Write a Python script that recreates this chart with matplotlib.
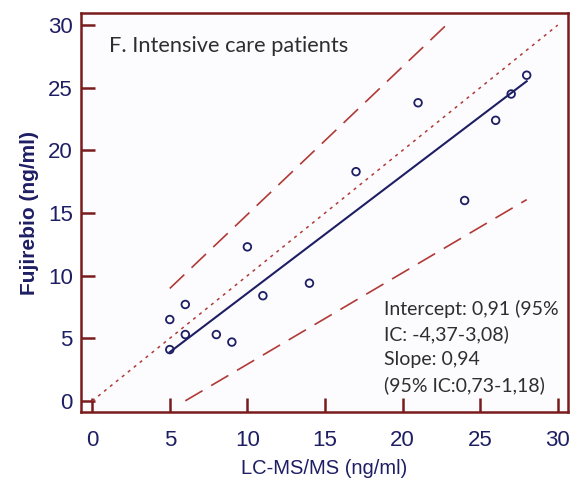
import numpy as np
import matplotlib
matplotlib.use("Agg")
import matplotlib.pyplot as plt

# measured points (LC-MS/MS vs Fujirebio), ng/ml
lcms = [5, 5, 6, 6, 8, 9, 10, 11, 14, 17, 21, 24, 26, 27, 28]
fuji = [6.5, 4.1, 7.7, 5.3, 5.3, 4.7, 12.3, 8.4, 9.4, 18.3, 23.8, 16.0, 22.4, 24.5, 26.0]

# Passing-Bablok style fit as drawn
fit_x = [5, 28]
fit_intercept, fit_slope = -0.8, 0.94
upper_x = [5, 22.8]
upper_intercept, upper_slope = 3.08, 1.18
lower_x = [6, 28]
lower_intercept, lower_slope = -4.37, 0.73
identity = [0, 30]

ticks = [0, 5, 10, 15, 20, 25, 30]
note = "Intercept: 0,91 (95%\nIC: -4,37-3,08)\nSlope: 0,94\n(95% IC:0,73-1,18)"

NAVY = "#1e1e64"
SPINE = "#7a1c1c"
RED = "#b03a36"

plt.rcParams["font.family"] = ["Liberation Sans", "DejaVu Sans"]

fig = plt.figure(figsize=(5.8, 4.84), dpi=100, facecolor="white")
ax = fig.add_axes([0.1397, 0.1488, 0.8393, 0.8242])
ax.set_facecolor("#fcfcfe")

ax.set_xlim(-0.72, 30.65)
ax.set_ylim(-0.88, 30.96)

ax.plot(identity, identity, color=RED, lw=1.1, linestyle=(0, (2, 3)))

fx = np.array(fit_x)
ax.plot(fx, fit_intercept + fit_slope * fx, color=NAVY, lw=1.5)

ux = np.array(upper_x)
ax.plot(ux, upper_intercept + upper_slope * ux, color=RED, lw=1.2, linestyle=(0, (12, 6)))
lx = np.array(lower_x)
ax.plot(lx, lower_intercept + lower_slope * lx, color=RED, lw=1.2, linestyle=(0, (12, 6)))

ax.scatter(lcms, fuji, s=30, facecolors="none", edgecolors=NAVY, linewidths=1.3, zorder=3)

for side in ["left", "bottom", "top", "right"]:
    ax.spines[side].set_color(SPINE)
    ax.spines[side].set_linewidth(1.8)

ax.set_xticks(ticks)
ax.set_yticks(ticks)
ax.tick_params(axis="both", direction="in", length=10, width=1.8, color=SPINE,
               labelcolor=NAVY, labelsize=16)
ax.tick_params(axis="x", pad=13)
ax.tick_params(axis="y", pad=6)

ax.set_xlabel("LC-MS/MS (ng/ml)", color=NAVY, fontsize=14.5, labelpad=6)
ax.set_ylabel("Fujirebio (ng/ml)", color=NAVY, fontsize=15, fontweight="bold", labelpad=6)

ax.text(1.1, 28.3, "F. Intensive care patients", fontsize=15.7, color="#2e2e2e",
        family=["Lato", "DejaVu Sans"], va="center")
ax.text(18.8, 8.1, note, fontsize=14, color="#2e2e2e", va="top", linespacing=1.55,
        family=["Lato", "DejaVu Sans"])

fig.savefig("out.png", dpi=100, facecolor="white")
